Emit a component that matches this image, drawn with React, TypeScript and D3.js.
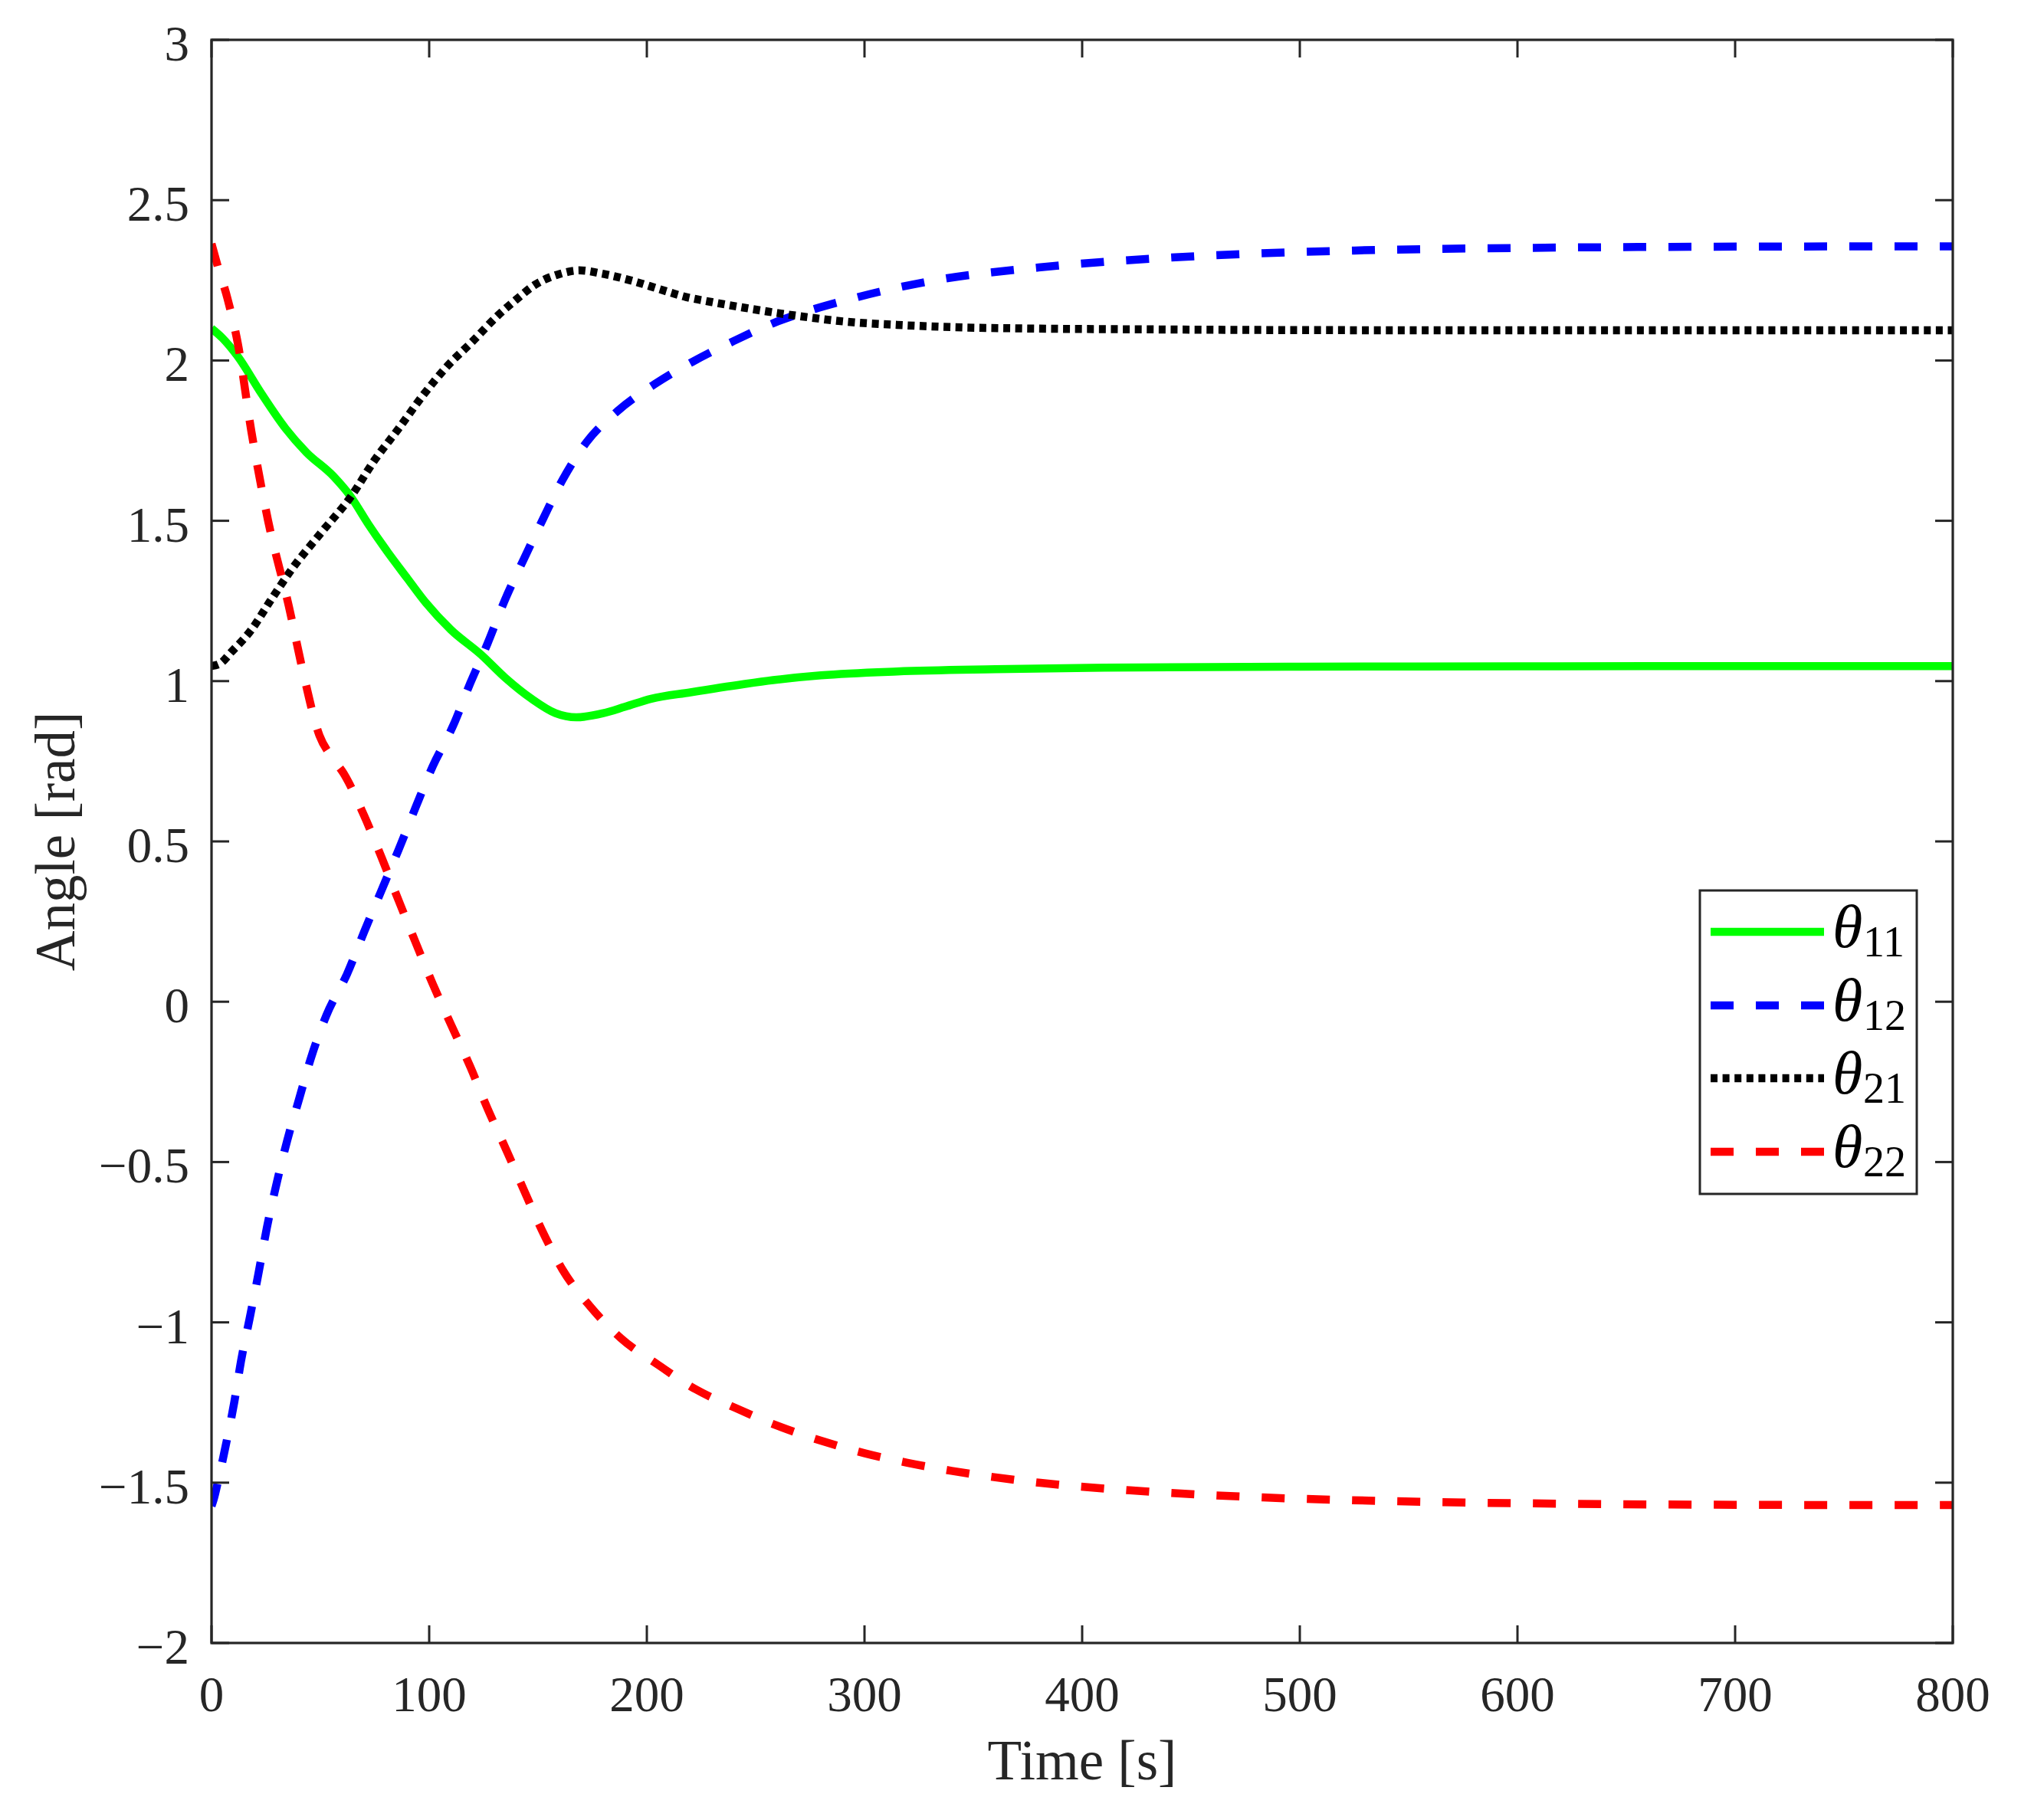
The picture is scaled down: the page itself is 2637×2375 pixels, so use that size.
import React from "react";
import * as d3 from "d3";

// ---------------- data ----------------
const xTicks = [0, 100, 200, 300, 400, 500, 600, 700, 800];
const yTicks = [-2, -1.5, -1, -0.5, 0, 0.5, 1, 1.5, 2, 2.5, 3];

const tTheta11 = [0, 5, 12, 23, 34, 43.5, 56, 64, 72, 79.6, 90, 98.5, 110, 123.6, 135, 147, 158, 167.6, 180, 190, 202, 220, 244, 258, 280, 315, 360, 410, 500, 600, 700, 800];
const vTheta11 = [2.1, 2.07, 2.013, 1.896, 1.788, 1.714, 1.639, 1.575, 1.49, 1.415, 1.32, 1.244, 1.16, 1.084, 1.01, 0.945, 0.9, 0.887, 0.9, 0.92, 0.945, 0.965, 0.99, 1.003, 1.018, 1.03, 1.037, 1.042, 1.045, 1.046, 1.047, 1.047];

const tTheta12 = [0, 1, 3.5, 6.5, 10.5, 13.6, 17.5, 21.5, 25.4, 30.1, 34.8, 40.3, 45.8, 52.8, 62.3, 70, 78, 86, 93.7, 101.6, 111, 118.9, 126.8, 134.6, 143.3, 151.9, 161.3, 172.4, 186.5, 203.8, 221, 240, 258, 296, 334, 380, 441, 525, 602, 700, 800];
const vTheta12 = [-1.573, -1.552, -1.48, -1.385, -1.247, -1.119, -0.988, -0.85, -0.706, -0.561, -0.432, -0.302, -0.173, -0.042, 0.087, 0.216, 0.346, 0.475, 0.605, 0.734, 0.861, 0.994, 1.117, 1.25, 1.378, 1.5, 1.628, 1.746, 1.842, 1.927, 1.996, 2.061, 2.116, 2.196, 2.252, 2.29, 2.321, 2.343, 2.351, 2.355, 2.356];

const tTheta21 = [0, 4, 9, 18.3, 27, 37, 50, 64, 75, 86, 97, 108, 120, 131.5, 140, 148.8, 160, 169, 180, 194, 206, 218, 230, 242.6, 256, 269.4, 290, 315, 340, 372.5, 430, 487, 600, 800];
const vTheta21 = [1.047, 1.055, 1.09, 1.16, 1.25, 1.35, 1.46, 1.575, 1.69, 1.788, 1.89, 1.98, 2.06, 2.14, 2.19, 2.237, 2.27, 2.281, 2.27, 2.247, 2.222, 2.198, 2.182, 2.167, 2.152, 2.139, 2.122, 2.111, 2.104, 2.1, 2.097, 2.095, 2.094, 2.094];

const tTheta22 = [0, 2.6, 7.3, 12, 18.3, 26, 35.5, 42, 49.6, 55, 60.8, 70, 78, 86, 93.7, 101.6, 110.2, 118.9, 126.8, 135.4, 143.3, 151.9, 161.3, 173.9, 188, 205.3, 222.5, 240.7, 260.6, 280, 300, 319.7, 340, 380, 422, 483, 544, 628, 700, 800];
const vTheta22 = [2.364, 2.3, 2.194, 2.056, 1.779, 1.5, 1.234, 1.03, 0.83, 0.765, 0.711, 0.582, 0.452, 0.315, 0.186, 0.056, -0.074, -0.203, -0.333, -0.462, -0.584, -0.714, -0.836, -0.95, -1.049, -1.133, -1.209, -1.267, -1.324, -1.369, -1.408, -1.438, -1.463, -1.5, -1.524, -1.546, -1.558, -1.566, -1.569, -1.57];

const seriesSub = ["11", "12", "21", "22"];
const seriesColor = ["#00ff00", "#0000ff", "#000000", "#ff0000"];
const seriesDash = ["none", "30 29", "9 6.6", "30 29"];
const seriesT = [tTheta11, tTheta12, tTheta21, tTheta22];
const seriesV = [vTheta11, vTheta12, vTheta21, vTheta22];

// ---------------- layout ----------------
const W = 2637;
const H = 2375;
const L = 276, R = 2548, T = 52, B = 2144;
const FONT = '"Liberation Serif", "Times New Roman", Times, serif';
const AX = "#262626";
const TICK = 23;

function fmt(v: number) {
  const s = String(Math.abs(v));
  return v < 0 ? "\u2212" + s : s;
}

export default function App() {
  const x = d3.scaleLinear().domain([0, 800]).range([L, R]);
  const y = d3.scaleLinear().domain([-2, 3]).range([B, T]);

  const lines = seriesT.map((ts, i) => {
    const pts: [number, number][] = ts.map((t, j) => [t, seriesV[i][j]]);
    const gen = d3
      .line<[number, number]>()
      .x((d) => x(d[0]))
      .y((d) => y(d[1]))
      .curve(d3.curveMonotoneX);
    return gen(pts) || "";
  });

  const legX = 2218, legY = 1162, legW = 283, legH = 396;
  const entryY = [1216, 1312, 1407, 1503];

  return (
    <svg
      width={W}
      height={H}
      style={{ position: "absolute", left: 0, top: 0, background: "#fff" }}
      fontFamily={FONT}
    >
      <rect x={0} y={0} width={W} height={H} fill="#ffffff" />
      <defs>
        <clipPath id="plotClip">
          <rect x={L} y={T} width={R - L} height={B - T} />
        </clipPath>
      </defs>

      {/* data lines */}
      <g clipPath="url(#plotClip)">
        {lines.map((d, i) => (
          <path
            key={i}
            d={d}
            fill="none"
            stroke={seriesColor[i]}
            strokeWidth={10.5}
            strokeDasharray={seriesDash[i]}
            strokeLinejoin="round"
          />
        ))}
      </g>

      {/* ticks */}
      <g stroke={AX} strokeWidth={3}>
        {xTicks.map((t) => (
          <g key={"xt" + t}>
            <line x1={x(t)} x2={x(t)} y1={B} y2={B - TICK} />
            <line x1={x(t)} x2={x(t)} y1={T} y2={T + TICK} />
          </g>
        ))}
        {yTicks.map((t) => (
          <g key={"yt" + t}>
            <line x1={L} x2={L + TICK} y1={y(t)} y2={y(t)} />
            <line x1={R} x2={R - TICK} y1={y(t)} y2={y(t)} />
          </g>
        ))}
      </g>

      {/* axes box */}
      <rect x={L} y={T} width={R - L} height={B - T} fill="none" stroke={AX} strokeWidth={3.2} />

      {/* tick labels */}
      <g fill={AX} fontSize={65}>
        {xTicks.map((t) => (
          <text key={"xl" + t} x={x(t)} y={2233} textAnchor="middle">
            {fmt(t)}
          </text>
        ))}
        {yTicks.map((t) => (
          <text key={"yl" + t} x={247} y={y(t) + 27} textAnchor="end">
            {fmt(t)}
          </text>
        ))}
      </g>

      {/* axis labels */}
      <text x={(L + R) / 2} y={2322} textAnchor="middle" fontSize={73} fill={AX}>
        Time [s]
      </text>
      <text
        transform={`translate(97, ${(T + B) / 2}) rotate(-90)`}
        textAnchor="middle"
        fontSize={73}
        fill={AX}
      >
        Angle [rad]
      </text>

      {/* legend */}
      <rect x={legX} y={legY} width={legW} height={legH} fill="#ffffff" stroke={AX} strokeWidth={3} />
      {seriesSub.map((s, i) => (
        <g key={"lg" + s}>
          <line
            x1={2232}
            x2={2380}
            y1={entryY[i]}
            y2={entryY[i]}
            stroke={seriesColor[i]}
            strokeWidth={10.5}
            strokeDasharray={seriesDash[i]}
          />
          <text x={2391} y={entryY[i] + 20} fontSize={80} fontStyle="italic" fill="#000">
            θ
          </text>
          <text x={2431} y={entryY[i] + 32} fontSize={56} fill="#000">
            {s}
          </text>
        </g>
      ))}
    </svg>
  );
}
